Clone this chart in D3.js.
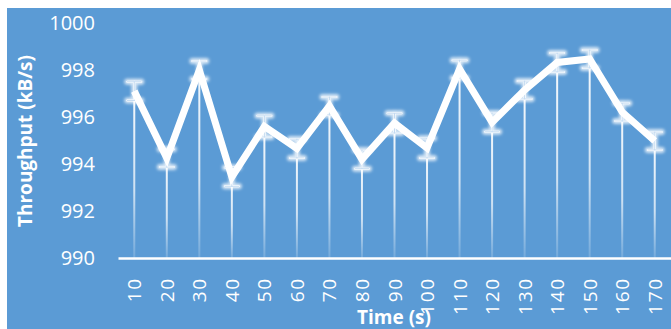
<!DOCTYPE html>
<html>
<head>
<meta charset="utf-8">
<script src="https://cdn.jsdelivr.net/npm/d3@7"></script>
<style>
  html, body { margin: 0; padding: 0; background: #fff; }
  #app { width: 671px; height: 329px; overflow: hidden; }
</style>
</head>
<body>
<div id="app"></div>
<script>
const times = ["10", "20", "30", "40", "50", "60", "70", "80", "90", "100",
  "110", "120", "130", "140", "150", "160", "170"];
const throughput = [997.1, 994.25, 998.0, 993.45, 995.6, 994.66, 996.47, 994.2, 995.74,
  994.68, 998.04, 995.77, 997.15, 998.32, 998.47, 996.21, 994.98];
const errors = [0.4, 0.38, 0.38, 0.4, 0.45, 0.4, 0.38, 0.4, 0.42, 0.42, 0.38, 0.4, 0.38,
  0.4, 0.38, 0.38, 0.38];
const yTicks = [990, 992, 994, 996, 998, 1000];

const chart = () => {
  const width = 671;
  const height = 329;
  const margin = { top: 23, right: 0, bottom: 71, left: 118 };
  const svg = d3.create("svg").attr("width", width).attr("height", height);
  const data = times.map((t, i) => ({ t, v: throughput[i], e: errors[i] }));

  const defs = svg.append("defs");
  const glow = defs.append("filter").attr("id", "glow")
    .attr("x", "-50%").attr("y", "-50%").attr("width", "200%").attr("height", "200%");
  glow.append("feGaussianBlur").attr("in", "SourceGraphic").attr("stdDeviation", 1.6);

  const fade = defs.append("linearGradient").attr("id", "fade")
    .attr("x1", 0).attr("y1", 0).attr("x2", 0).attr("y2", 1);
  fade.append("stop").attr("offset", "0%").attr("stop-color", "#fff").attr("stop-opacity", 0.95);
  fade.append("stop").attr("offset", "60%").attr("stop-color", "#fff").attr("stop-opacity", 0.7);
  fade.append("stop").attr("offset", "100%").attr("stop-color", "#fff").attr("stop-opacity", 0.15);

  // blue chart area
  svg.append("rect")
    .attr("x", 7).attr("y", 8)
    .attr("width", width - 7).attr("height", height - 8)
    .attr("fill", "#5B9BD5");

  const x = d3.scaleBand().domain(times).range([margin.left, width - margin.right]);
  const y = d3.scaleLinear().domain([990, 1000]).range([height - margin.bottom, margin.top]);
  const cx = (d) => x(d.t) + x.bandwidth() / 2;

  // drop lines
  svg.append("g")
    .selectAll("rect")
    .data(data)
    .join("rect")
    .attr("x", (d) => cx(d) - 1)
    .attr("y", (d) => y(d.v))
    .attr("width", 2)
    .attr("height", (d) => y(990) - y(d.v))
    .attr("fill", "url(#fade)");

  // error bars with glow
  const drawErr = (g, stroke, sw, opacity) => {
    const eb = g.selectAll("g").data(data).join("g")
      .attr("stroke", stroke).attr("stroke-width", sw).attr("opacity", opacity)
      .attr("fill", "none").attr("stroke-linecap", "round");
    eb.append("line")
      .attr("x1", cx).attr("x2", cx)
      .attr("y1", (d) => y(d.v + d.e)).attr("y2", (d) => y(d.v - d.e));
    eb.append("line")
      .attr("x1", (d) => cx(d) - 7).attr("x2", (d) => cx(d) + 7)
      .attr("y1", (d) => y(d.v + d.e)).attr("y2", (d) => y(d.v + d.e));
    eb.append("line")
      .attr("x1", (d) => cx(d) - 7).attr("x2", (d) => cx(d) + 7)
      .attr("y1", (d) => y(d.v - d.e)).attr("y2", (d) => y(d.v - d.e));
  };
  drawErr(svg.append("g").attr("filter", "url(#glow)"), "#fff", 6, 0.75);
  drawErr(svg.append("g"), "#fff", 2, 1);
  drawErr(svg.append("g"), "#9cc3e8", 1, 0.6);

  // main line
  svg.append("path")
    .datum(data)
    .attr("fill", "none")
    .attr("stroke", "#fff")
    .attr("stroke-width", 7)
    .attr("stroke-linejoin", "miter")
    .attr("d", d3.line().x(cx).y((d) => y(d.v)));

  // y axis
  svg.append("g")
    .attr("transform", `translate(${margin.left - 23},0)`)
    .call(d3.axisLeft(y).tickValues(yTicks).tickSize(0).tickPadding(0).tickFormat(d3.format("d")))
    .call((g) => g.select(".domain").remove())
    .selectAll("text")
    .attr("fill", "#fff")
    .attr("font-family", "Open Sans")
    .attr("font-size", 20);

  // x axis
  const xAxis = svg.append("g")
    .attr("transform", `translate(0,${y(990)})`)
    .call(d3.axisBottom(x).tickSize(0).tickPadding(0));
  xAxis.select(".domain")
    .attr("stroke", "#fff")
    .attr("stroke-width", 2.5);
  xAxis.selectAll("text")
    .attr("fill", "#fff")
    .attr("font-family", "Open Sans")
    .attr("font-size", 19)
    .attr("letter-spacing", 1.8)
    .attr("text-anchor", "end")
    .attr("dy", null)
    .attr("transform", "translate(7,19) rotate(-90)");

  svg.append("text")
    .text("Throughput (kB/s)")
    .attr("transform", "translate(32,141) rotate(-90)")
    .attr("text-anchor", "middle")
    .attr("fill", "#fff")
    .attr("font-family", "Open Sans")
    .attr("font-weight", "bold")
    .attr("font-size", 19);

  svg.append("text")
    .text("Time (s)")
    .attr("x", 394)
    .attr("y", 324)
    .attr("text-anchor", "middle")
    .attr("fill", "#fff")
    .attr("font-family", "Open Sans")
    .attr("font-weight", "bold")
    .attr("font-size", 19);

  return svg.node();
};

d3.select("#app").append(chart);
</script>
</body>
</html>
